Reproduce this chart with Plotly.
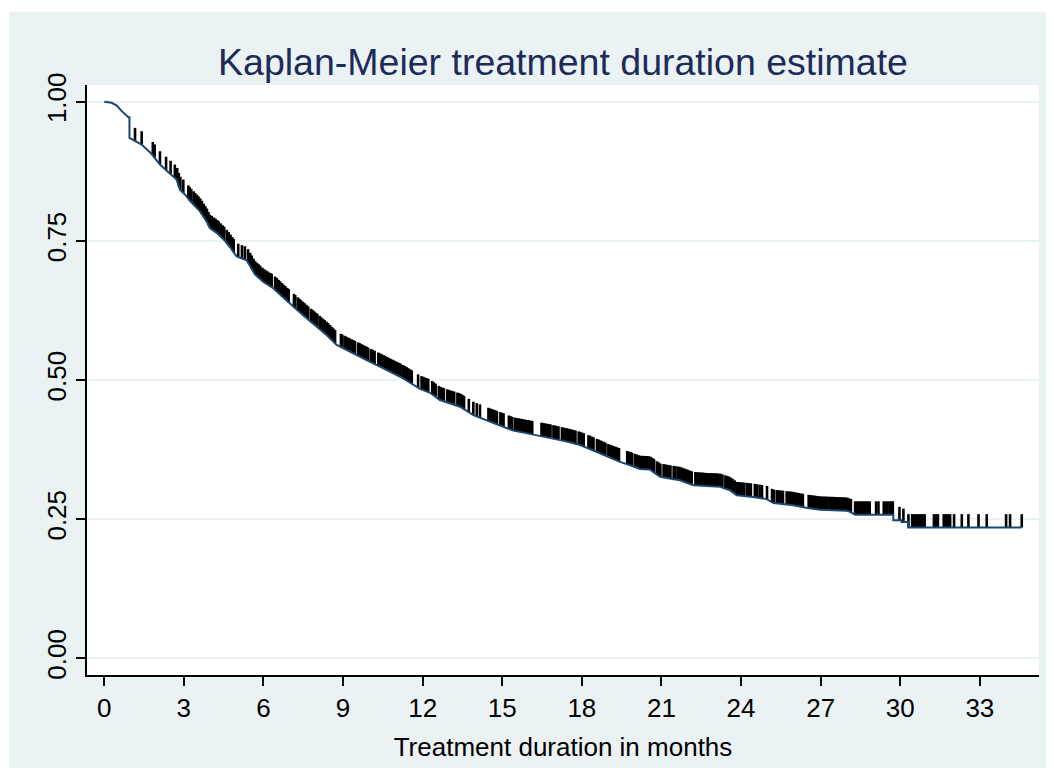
import numpy as np
import plotly.graph_objects as go

# Kaplan-Meier curve (months, survival)
km_time = [0, 0.28, 0.47, 0.66, 0.91, 0.95, 0.95, 1.16, 1.41, 1.79, 2.10, 2.45, 2.73, 2.85,
           3.05, 3.23, 3.61, 3.86, 3.98, 4.25, 4.55, 4.75, 4.99, 5.37, 5.68, 6.00, 6.37,
           6.75, 7.12, 7.55, 8.00, 8.40, 8.76, 9.20, 9.64, 10.00, 10.39, 10.80, 11.27,
           11.90, 12.28, 12.65, 13.00, 13.41, 13.91, 14.54, 15.00, 15.42, 15.85, 16.30,
           16.75, 17.18, 17.55, 17.93, 18.30, 18.68, 19.05, 19.44, 19.80, 20.19, 20.57,
           20.95, 21.30, 21.70, 22.20, 22.70, 23.21, 23.58, 23.84, 24.46, 24.97, 25.22,
           25.60, 25.97, 26.50, 26.98, 27.98, 28.11, 28.30, 29.74, 29.74, 30.05, 30.05,
           30.30, 30.30, 34.58]
km_surv = [1.000, 0.998, 0.993, 0.983, 0.972, 0.972, 0.935, 0.929, 0.923, 0.906, 0.887,
           0.872, 0.860, 0.842, 0.833, 0.822, 0.803, 0.785, 0.773, 0.764, 0.750, 0.738,
           0.722, 0.715, 0.690, 0.676, 0.665, 0.648, 0.632, 0.614, 0.596, 0.580, 0.563,
           0.552, 0.542, 0.533, 0.524, 0.514, 0.503, 0.484, 0.477, 0.464, 0.458, 0.452,
           0.437, 0.425, 0.417, 0.409, 0.405, 0.401, 0.397, 0.392, 0.388, 0.383, 0.376,
           0.368, 0.360, 0.353, 0.347, 0.340, 0.339, 0.326, 0.323, 0.320, 0.311, 0.309,
           0.308, 0.302, 0.293, 0.290, 0.286, 0.279, 0.277, 0.275, 0.270, 0.267, 0.265,
           0.263, 0.258, 0.258, 0.248, 0.248, 0.245, 0.245, 0.235, 0.235]

# censoring times (months)
censor_time = [
    1.16, 1.41, 1.83, 1.90, 2.10, 2.33, 2.50, 2.66, 2.75, 2.81, 2.87, 2.98,
    3.17, 3.22, 3.28, 3.37, 3.43, 3.49, 3.55, 3.62, 3.68, 3.75, 3.81, 3.87, 3.93, 3.99,
    4.05, 4.13, 4.19, 4.26, 4.31, 4.39, 4.46, 4.52, 4.62, 4.69, 4.76, 4.83, 4.88, 5.05,
    5.19, 5.30, 5.42, 5.50, 5.56, 5.63, 5.69, 5.76, 5.82, 5.88, 5.96, 6.03, 6.11, 6.18,
    6.26, 6.31, 6.44, 6.50, 6.57, 6.63, 6.70, 6.77, 6.83, 6.90, 6.95, 7.15, 7.20, 7.30,
    7.36, 7.42, 7.49, 7.55, 7.62, 7.69, 7.80, 7.86, 7.92, 7.98, 8.03, 8.12, 8.18, 8.25,
    8.31, 8.38, 8.44, 8.51, 8.58, 8.64, 8.70, 8.92, 8.97, 9.06, 9.12, 9.19, 9.25, 9.32,
    9.38, 9.45, 9.57, 9.63, 9.70, 9.76, 9.83, 9.89, 9.95, 10.06, 10.12, 10.19, 10.33,
    10.40, 10.46, 10.53, 10.59, 10.66, 10.72, 10.79, 10.86, 10.92, 10.99, 11.05, 11.12,
    11.17, 11.27, 11.33, 11.40, 11.46, 11.53, 11.59, 11.83, 11.96, 12.02, 12.08, 12.15,
    12.21, 12.36, 12.42, 12.49, 12.61, 12.67, 12.74, 12.80, 12.93, 12.99, 13.06, 13.12,
    13.19, 13.31, 13.37, 13.44, 13.50, 13.56, 13.74, 13.91, 14.04, 14.16, 14.48, 14.54,
    14.61, 14.67, 14.74, 14.80, 14.93, 14.99, 15.05, 15.25, 15.31, 15.38, 15.49, 15.55,
    15.62, 15.68, 15.74, 15.81, 15.87, 15.94, 16.00, 16.07, 16.13, 16.48, 16.55, 16.61,
    16.70, 16.76, 16.82, 16.93, 16.99, 17.06, 17.12, 17.25, 17.31, 17.38, 17.44, 17.50,
    17.57, 17.63, 17.70, 17.76, 17.88, 17.94, 18.01, 18.07, 18.25, 18.31, 18.38, 18.44,
    18.57, 18.63, 18.70, 18.76, 18.83, 18.89, 19.00, 19.07, 19.13, 19.20, 19.27, 19.33,
    19.40, 19.71, 19.78, 19.84, 19.90, 20.01, 20.07, 20.14, 20.20, 20.27, 20.33, 20.40,
    20.46, 20.53, 20.60, 20.66, 20.72, 20.83, 20.89, 20.96, 21.08, 21.14, 21.21, 21.27,
    21.34, 21.46, 21.53, 21.62, 21.70, 21.78, 21.85, 21.93, 22.00, 22.07, 22.14, 22.28,
    22.35, 22.43, 22.50, 22.56, 22.62, 22.68, 22.75, 22.81, 22.88, 22.94, 23.01, 23.07,
    23.13, 23.22, 23.30, 23.41, 23.48, 23.55, 23.62, 23.68, 23.76, 23.84, 23.91, 23.98,
    24.05, 24.12, 24.22, 24.29, 24.37, 24.52, 24.60, 24.70, 24.79, 24.98, 25.17, 25.25,
    25.36, 25.44, 25.52, 25.58, 25.72, 25.80, 25.88, 25.95, 26.04, 26.11, 26.18, 26.26,
    26.33, 26.55, 26.62, 26.69, 26.76, 26.83, 26.90, 26.97, 27.05, 27.12, 27.19, 27.26,
    27.34, 27.41, 27.47, 27.52, 27.58, 27.65, 27.72, 27.79, 27.86, 27.93, 28.00, 28.07,
    28.14, 28.30, 28.37, 28.43, 28.50, 28.57, 28.64, 28.71, 28.78, 28.85, 29.09, 29.18,
    29.38, 29.45, 29.52, 29.60, 29.67, 29.72, 29.97, 30.12, 30.31, 30.45, 30.51, 30.58,
    30.64, 30.71, 30.78, 30.85, 30.92, 31.27, 31.34, 31.42, 31.64, 31.72, 31.79, 31.88,
    32.03, 32.32, 32.57, 32.95, 33.26, 33.99, 34.14, 34.58,
]

x_ticks = list(range(0, 34, 3))
y_ticks = [0, 0.25, 0.5, 0.75, 1.0]
y_labels = ["0.00", "0.25", "0.50", "0.75", "1.00"]

navy = "#1a476f"
bg = "#eaf2f3"
font = "Arial, Liberation Sans, sans-serif"

# each censor mark sits on the curve at that time
censor_surv = [float(np.interp(t, km_time, km_surv)) for t in censor_time]
tick_h = 0.024

fig = go.Figure()
fig.add_trace(go.Scatter(
    x=censor_time, y=censor_surv, mode="markers",
    marker=dict(size=1, color="rgba(0,0,0,0)"),
    error_y=dict(type="data", symmetric=False, array=[tick_h] * len(censor_time),
                 arrayminus=[0] * len(censor_time), width=0, thickness=2.6, color="black"),
    showlegend=False, hoverinfo="skip",
))
fig.add_trace(go.Scatter(
    x=km_time, y=km_surv, mode="lines",
    line=dict(color=navy, width=2),
    showlegend=False,
))

fig.update_layout(
    width=1054, height=771,
    margin=dict(l=79, r=23, t=77, b=104),
    paper_bgcolor="white",
    plot_bgcolor="rgba(0,0,0,0)",
    font=dict(family=font, color="black", size=26),
    title=dict(text="Kaplan-Meier treatment duration estimate", x=0.5, xref="paper",
               xanchor="center", y=1 - 54 / 771, yanchor="middle",
               font=dict(size=37.5, color="#1c2b5a", family=font)),
    shapes=[
        # light background panel, with a thin white border at top/left
        dict(type="rect", xref="paper", yref="paper", x0=-0.082, x1=1.03, y0=-0.158, y1=1.124,
             fillcolor=bg, line_width=0, layer="below"),
        dict(type="rect", xref="x domain", yref="y domain", x0=0, x1=1, y0=0, y1=1,
             fillcolor="white", line_width=0, layer="below"),
    ],
)
fig.update_xaxes(
    range=[-0.65, 35.23], tickvals=x_ticks, ticks="outside", ticklen=9, tickwidth=1.5,
    tickcolor="black", showline=True, linecolor="black", linewidth=1.5, showgrid=False,
    zeroline=False, tickfont=dict(size=26),
    title=dict(text="Treatment duration in months", font=dict(size=26), standoff=16),
)
fig.update_yaxes(
    range=[-0.03, 1.03], tickvals=y_ticks, ticktext=y_labels, tickangle=-90,
    ticks="outside", ticklen=9, tickwidth=1.5, tickcolor="black", showline=True,
    linecolor="black", linewidth=1.5, showgrid=True, gridcolor=bg, gridwidth=2,
    zeroline=False, tickfont=dict(size=26),
)

fig.write_html("out.html")
